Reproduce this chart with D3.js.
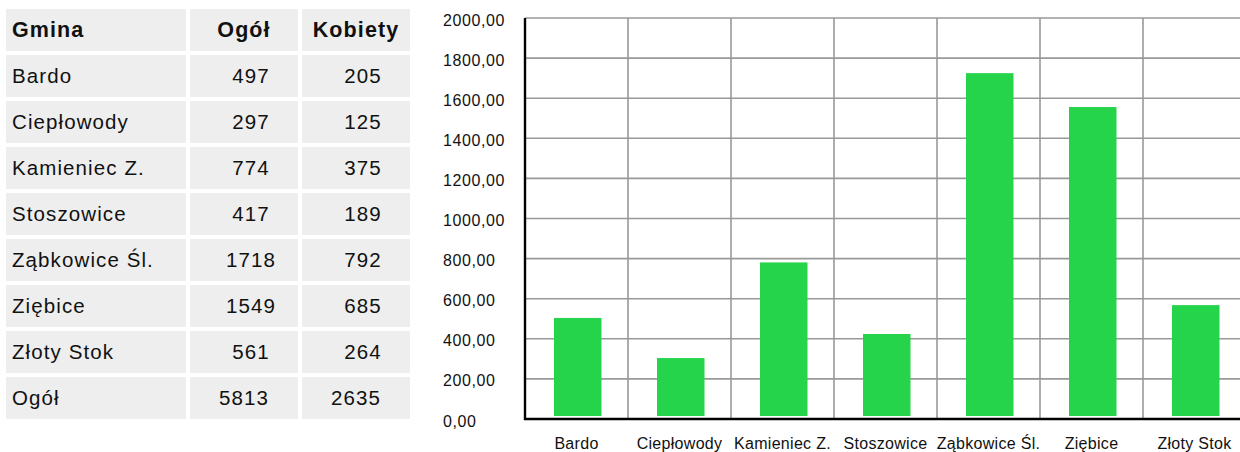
<!DOCTYPE html>
<html>
<head>
<meta charset="utf-8">
<script src="https://cdn.jsdelivr.net/npm/d3@7"></script>
<style>
	body { margin:0; background:#fff; }
	svg text { font-family:"Liberation Sans", Arial, Helvetica, sans-serif; fill:#111; }
</style>
</head>
<body>
<div id="chart"></div>
<script>
// dane
var gminy = ["Bardo","Ciepłowody","Kamieniec Z.","Stoszowice","Ząbkowice Śl.","Ziębice","Złoty Stok"];
var ogol = [497,297,774,417,1718,1549,561];
var kobiety = [205,125,375,189,792,685,264];
var naglowki = ["Gmina","Ogół","Kobiety"];
var suma = ["Ogół",5813,2635];
var yTicks = [0,200,400,600,800,1000,1200,1400,1600,1800,2000];

(function(){
	var width = 1240,
	height = 452;

	var svg = d3.select("#chart")
	.append("svg")
	.attr("width",width)
	.attr("height",height)

	// ---- tabela ----
	var cols = [{x:6,w:180},{x:190,w:108},{x:302,w:108}]
	var rowTop = 9, rowH = 42, rowStep = 46

	var rows = [naglowki].concat(gminy.map(function(g,i){
		return [g,ogol[i],kobiety[i]];
	})).concat([suma])

	var tab = svg.append("g").attr("class","table")

	var tr = tab.selectAll(".row")
	.data(rows)
	.enter().append("g")
	.attr("class","row")
	.attr("transform",function(d,i){ return "translate(0," + (rowTop + i*rowStep) + ")" })

	tr.selectAll("rect")
	.data(function(d){ return d; })
	.enter().append("rect")
	.attr("x",function(d,j){ return cols[j].x })
	.attr("y",0)
	.attr("width",function(d,j){ return cols[j].w })
	.attr("height",rowH)
	.attr("fill","#eeeeee")

	tr.each(function(d,i){
		var g = d3.select(this)
		var header = i===0, total = i===rows.length-1
		d.forEach(function(v,j){
			var t = g.append("text")
				.attr("y",28)
				.text(v)
				.style("font-size",header ? "21.5px" : "20.5px")
				.style("font-weight",header ? "bold" : "normal")
				.style("letter-spacing",header ? "1.1px" : "1.1px")
			if(j===0){
				t.attr("x",12)
			} else {
				var c = cols[j].x + cols[j].w/2
				t.attr("text-anchor","middle")
				 .attr("x",(header || total) ? c : c+7)
			}
		})
	})

	// ---- wykres ----
	var left = 525, top = 18, bottom = 419, band = 103

	var x = d3.scaleBand()
		.domain(gminy)
		.range([left, left + band*gminy.length])
		.padding(0)

	var y = d3.scaleLinear()
		.domain([0,2000])
		.range([bottom, top])

	var fmt = d3.formatLocale({decimal:",", thousands:"", grouping:[3], currency:["",""]}).format(".2f")

	var chart = svg.append("g").attr("class","chart")

	chart.selectAll(".hgrid")
	.data(yTicks)
	.enter().append("line")
	.attr("class","hgrid")
	.attr("x1",left).attr("x2",x.range()[1])
	.attr("y1",function(d){ return y(d) }).attr("y2",function(d){ return y(d) })
	.attr("stroke","#999")
	.attr("stroke-width",1.6)

	chart.selectAll(".vgrid")
	.data(gminy.slice(1))
	.enter().append("line")
	.attr("class","vgrid")
	.attr("x1",function(d){ return x(d) }).attr("x2",function(d){ return x(d) })
	.attr("y1",top).attr("y2",bottom)
	.attr("stroke","#999")
	.attr("stroke-width",1.6)

	// słupki: podstawa lekko nad osią, jak w oryginale
	chart.selectAll(".bar")
	.data(ogol)
	.enter().append("rect")
	.attr("class","bar")
	.attr("x",function(d,i){ return x(gminy[i]) + 29 })
	.attr("width",47.5)
	.attr("y",function(d){ return y(d) - 1.4 })
	.attr("height",function(d){ return y(0) - 3 - (y(d) - 1.4) })
	.attr("fill","#25d44b")

	// osie
	chart.append("line")
	.attr("x1",left).attr("x2",left)
	.attr("y1",top).attr("y2",bottom+1)
	.attr("stroke","#000").attr("stroke-width",2.4)

	chart.append("line")
	.attr("x1",left-1).attr("x2",width)
	.attr("y1",bottom).attr("y2",bottom)
	.attr("stroke","#000").attr("stroke-width",2.4)

	chart.selectAll(".ylab")
	.data(yTicks)
	.enter().append("text")
	.attr("class","ylab")
	.attr("x",443)
	.attr("y",function(d){ return y(d) + 7.5 })
	.style("font-size","16px")
	.style("letter-spacing","0.6px")
	.text(function(d){ return fmt(d) })

	chart.selectAll(".xlab")
	.data(gminy)
	.enter().append("text")
	.attr("class","xlab")
	.attr("text-anchor","middle")
	.attr("x",function(d){ return x(d) + x.bandwidth()/2 })
	.attr("y",449)
	.style("font-size","16px")
	.style("letter-spacing","0.3px")
	.text(function(d){ return d })
})();
</script>
</body>
</html>
